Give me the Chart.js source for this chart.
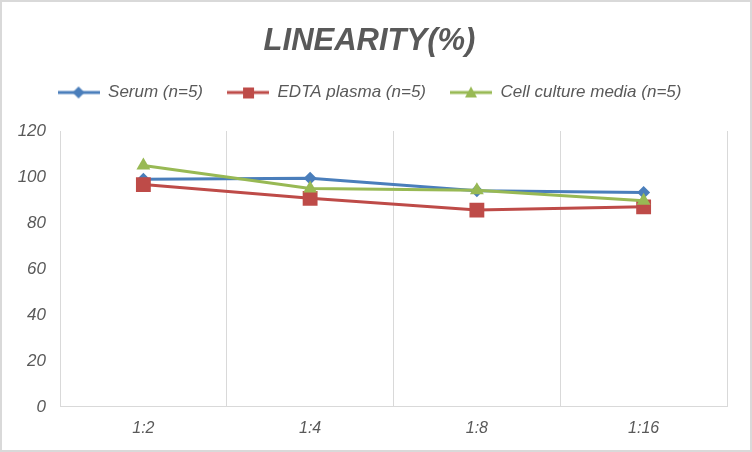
<!DOCTYPE html>
<html>
<head>
<meta charset="utf-8">
<script src="https://cdn.jsdelivr.net/npm/chart.js@4"></script>
<style>
  html, body { margin: 0; padding: 0; background: #fff; }
  #wrap { position: relative; width: 748px; height: 448px; border: 2px solid #d9d9d9; }
</style>
</head>
<body>
<div id="wrap"><canvas id="grafico"></canvas></div>
<script>
const categorias = ['1:2', '1:4', '1:8', '1:16'];
const serum = [99, 99.4, 94, 93.2];
const edtaPlasma = [96.7, 90.7, 85.6, 87];
const cellCulture = [105, 95, 94.2, 89.7];
const nomesSeries = ['Serum (n=5)', 'EDTA plasma (n=5)', 'Cell culture media (n=5)'];
const tituloTexto = 'LINEARITY(%)';

const fonte = '"Liberation Sans Narrow", "Liberation Sans", sans-serif';
const cinza = '#595959';

// icone da legenda: linha com marcador
function iconeLegenda(cor, forma) {
    const c = document.createElement('canvas');
    c.width = 42; c.height = 14;
    const g = c.getContext('2d');
    g.strokeStyle = cor; g.fillStyle = cor; g.lineWidth = 3;
    g.beginPath(); g.moveTo(0, 7); g.lineTo(42, 7); g.stroke();
    g.beginPath();
    if (forma === 'rectRot') {
        g.moveTo(21, 1); g.lineTo(27, 7); g.lineTo(21, 13); g.lineTo(15, 7);
    } else if (forma === 'rect') {
        g.rect(16, 2, 11, 11);
    } else {
        g.moveTo(21, 1); g.lineTo(27, 12); g.lineTo(15, 12);
    }
    g.closePath(); g.fill();
    return c;
}

const estilos = [
    { cor: '#4a7ebb', forma: 'rectRot', raio: 6.5 },
    { cor: '#be4b48', forma: 'rect', raio: 10.5 },
    { cor: '#98b954', forma: 'triangle', raio: 8 }
];
const valores = [serum, edtaPlasma, cellCulture];

// a ultima serie fica por cima, como no Excel
const datasets = valores.map((v, i) => ({
    label: nomesSeries[i],
    data: v,
    order: valores.length - i,
    borderColor: estilos[i].cor,
    backgroundColor: estilos[i].cor,
    borderWidth: 3,
    pointStyle: estilos[i].forma,
    pointRadius: estilos[i].raio,
    pointHoverRadius: estilos[i].raio,
    pointBorderWidth: 0,
    tension: 0
}));

// espaco extra abaixo da legenda
const espacoLegenda = {
    id: 'espacoLegenda',
    beforeInit(chart) {
        const fitOriginal = chart.legend.fit;
        chart.legend.fit = function () {
            fitOriginal.bind(chart.legend)();
            this.height += 20;
        };
    }
};

new Chart(document.getElementById('grafico'), {
    type: 'line',
    data: { labels: categorias, datasets: datasets },
    plugins: [espacoLegenda],
    options: {
        responsive: true,
        maintainAspectRatio: false,
        animation: false,
        layout: { padding: { left: 10, right: 23, top: 0, bottom: 0 } },
        plugins: {
            title: {
                display: true,
                text: tituloTexto,
                color: cinza,
                font: { family: fonte, size: 31, weight: 'bold', style: 'italic', lineHeight: 1 },
                padding: { top: 24, bottom: 3 }
            },
            legend: {
                position: 'top',
                labels: {
                    color: cinza,
                    font: { family: fonte, size: 17, style: 'italic' },
                    usePointStyle: true,
                    pointStyleWidth: 42,
                    padding: 24,
                    generateLabels: (chart) => chart.data.datasets.map((d, i) => ({
                        text: d.label,
                        pointStyle: iconeLegenda(estilos[i].cor, estilos[i].forma),
                        fontColor: cinza,
                        datasetIndex: i,
                        hidden: false,
                        lineWidth: 0
                    }))
                }
            },
            tooltip: { enabled: false }
        },
        scales: {
            x: {
                offset: true,
                grid: { offset: true, color: '#d9d9d9', drawTicks: false },
                border: { color: '#d9d9d9' },
                ticks: {
                    color: cinza,
                    padding: 12,
                    font: { family: fonte, size: 16, style: 'italic' }
                }
            },
            y: {
                min: 0,
                max: 120,
                afterFit: (scale) => { scale.width = 48; },
                ticks: {
                    stepSize: 20,
                    color: cinza,
                    padding: 14,
                    font: { family: fonte, size: 17, style: 'italic' }
                },
                grid: { display: false, drawTicks: false },
                border: { display: true, color: '#d9d9d9' }
            }
        }
    }
});
</script>
</body>
</html>
